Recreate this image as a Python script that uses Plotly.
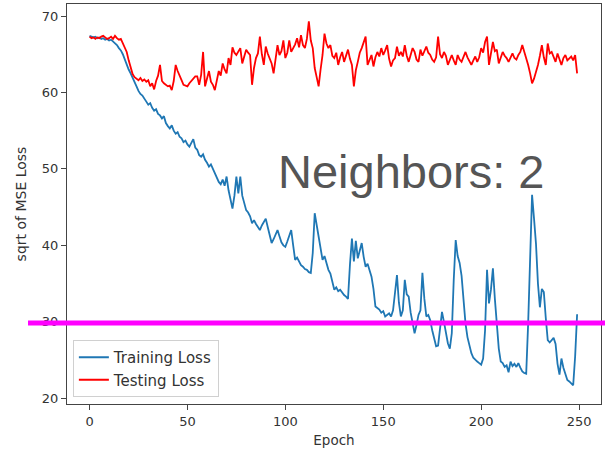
import plotly.graph_objects as go

epochs = list(range(250))

train_loss = [
    67.4, 67.3, 67.2, 67.3, 67.1, 67.2, 67.0, 67.1, 66.9, 67.0,
    66.8, 66.9, 66.7, 66.4, 66.2, 65.8, 65.5, 65.0, 64.3, 63.6,
    63.0, 62.5, 62.0, 61.3, 60.8, 60.2, 59.8, 59.6, 59.1, 58.8,
    58.4, 58.6, 58.0, 57.6, 57.8, 57.2, 57.0, 56.6, 56.9, 56.0,
    55.6, 55.3, 55.7, 55.0, 54.6, 54.8, 54.2, 54.0, 53.5, 53.7,
    53.2, 52.9, 53.4, 53.9, 52.8, 52.5, 51.8, 51.6, 51.9, 51.2,
    50.8, 50.3, 50.6, 50.0, 49.6, 49.0, 48.3, 48.0, 48.6, 47.8,
    49.0, 47.2, 46.0, 44.8, 46.5, 49.0, 46.8, 49.0, 46.5, 45.4,
    44.6, 44.3, 43.8, 42.9, 43.3, 42.8, 42.3, 42.0, 42.6, 43.0,
    43.5, 42.4, 41.2, 40.3, 40.8, 41.5, 42.0, 41.2, 40.4, 40.0,
    39.8, 40.5, 41.3, 42.0, 40.0, 38.1, 38.4, 37.8, 37.4, 37.2,
    36.9, 36.8, 36.5, 36.4, 39.0, 44.2, 42.8, 40.9, 39.5, 38.1,
    38.6, 37.5, 36.8, 36.3, 35.0, 34.2, 34.5, 34.0, 34.2, 33.8,
    33.5, 33.3, 33.0, 37.5, 40.9, 37.9, 40.6, 38.3, 39.2, 40.3,
    38.5, 37.2, 37.6, 36.6, 35.9, 34.3, 32.0, 31.8, 31.6, 31.2,
    31.4, 30.7, 30.9, 31.1, 30.7, 31.5, 33.8, 36.1, 32.5, 30.7,
    31.5, 35.5, 33.6, 33.3, 31.2, 29.8, 28.5, 29.6, 30.9, 31.5,
    36.4, 33.0, 30.7, 30.9, 30.2, 28.9, 28.0, 26.8, 26.9, 28.8,
    31.3, 30.0, 28.4, 27.2, 26.5, 28.5, 35.5, 40.7, 38.6, 37.7,
    36.0, 32.5, 29.8, 28.0, 26.8, 25.9, 25.3, 25.0, 24.8, 24.6,
    24.4, 25.2, 28.9, 36.8, 32.4, 34.2, 37.0, 33.0, 29.8, 26.5,
    24.8, 24.6, 24.1, 24.3, 23.4, 24.8, 24.2, 24.5, 24.1, 24.6,
    24.0, 23.5, 23.3, 23.2, 29.8, 38.5, 46.6, 43.5, 40.2, 35.0,
    31.9, 34.3, 33.9, 30.5, 27.6, 27.3, 27.6, 27.9, 27.1, 24.5,
    23.1, 25.2, 24.0, 23.1, 22.4, 22.2, 22.0, 21.7, 25.5, 31.0,
]

test_loss = [
    67.3, 67.1, 67.2, 67.0, 67.2, 67.1, 67.3, 67.4, 67.2, 67.0,
    67.1, 67.3, 67.0, 67.4, 67.1, 66.9, 67.0, 66.4, 66.0, 65.3,
    64.2, 63.3, 62.4, 62.0, 61.8, 61.6, 61.9, 61.5, 61.7, 61.4,
    61.6, 60.8, 61.2, 60.4, 61.5, 62.2, 63.6, 61.5, 61.2, 61.0,
    60.8, 60.9, 60.3, 61.5, 63.6, 62.8, 62.1, 61.6, 61.0, 60.9,
    60.8, 61.2, 61.5, 61.7, 62.1, 62.1, 61.0, 62.3, 65.3, 60.8,
    61.7, 62.8, 61.4, 61.0, 60.3, 61.8, 62.8, 62.2, 63.8, 63.0,
    62.5, 64.5, 63.6, 65.9, 65.2, 64.9, 65.4, 65.8, 63.8, 64.6,
    65.6, 65.2, 64.9, 61.0, 63.2, 64.5, 65.1, 67.3, 65.0, 63.6,
    66.0, 65.1, 64.5, 63.8, 62.5, 64.6, 66.2, 64.9, 65.4, 66.8,
    64.5, 65.2, 66.8, 65.3, 65.8, 66.3, 67.1, 65.9, 67.5, 66.2,
    65.8, 67.0, 69.3, 66.8, 65.8, 63.2, 62.0, 60.8, 63.0, 64.9,
    67.7, 66.4, 65.8, 66.2, 64.8, 64.5, 65.2, 63.6, 64.6, 65.3,
    64.0, 64.8, 65.6, 64.4, 63.6, 60.8, 62.9, 64.0, 65.2, 65.8,
    66.5, 67.3, 63.6, 64.2, 64.9, 63.4, 64.6, 65.3, 64.7, 65.8,
    64.9, 65.5, 66.2, 64.4, 63.4, 64.2, 64.5, 66.0, 64.8, 65.3,
    64.7, 66.2, 64.8, 64.0, 65.0, 65.8, 65.3, 64.3, 64.0, 65.6,
    64.8, 65.3, 66.0, 65.2, 64.9, 64.3, 64.0, 64.6, 67.3, 65.0,
    64.5, 65.3, 64.8, 63.6, 64.4, 64.9, 64.2, 63.6, 64.9, 64.3,
    64.0, 64.7, 65.3, 64.6, 64.1, 63.6, 64.2, 64.7, 64.0, 64.6,
    65.8, 65.2, 66.6, 67.3, 63.6, 64.9, 66.6, 65.4, 65.6, 63.8,
    64.6, 65.3, 64.8, 64.5, 64.0, 64.6, 65.1, 64.5, 64.3, 64.9,
    65.3, 66.2, 65.4, 64.5, 63.6, 62.5, 61.2, 61.8, 62.6, 63.6,
    64.8, 66.2, 64.6, 63.6, 66.4, 65.1, 65.3, 64.6, 64.0, 65.1,
    64.4, 63.6, 64.5, 64.9, 64.2, 64.5, 64.7, 64.2, 64.9, 62.5,
]

x_ticks = [0, 50, 100, 150, 200, 250]
y_ticks = [20, 30, 40, 50, 60, 70]
series_names = ["Training Loss", "Testing Loss"]
x_title = "Epoch"
y_title = "sqrt of MSE Loss"
overlay_text = "Neighbors: 2"

FONT = "DejaVu Sans"
TXT = "#333333"

fig = go.Figure()
fig.add_trace(go.Scatter(x=epochs, y=train_loss, mode="lines", name=series_names[0],
                         line=dict(color="#1f77b4", width=1.8)))
fig.add_trace(go.Scatter(x=epochs, y=test_loss, mode="lines", name=series_names[1],
                         line=dict(color="#ff0000", width=1.8)))

axis_common = dict(showgrid=False, zeroline=False, showline=True, mirror=True,
                   linecolor="#444444", linewidth=1, ticks="outside", ticklen=5,
                   tickcolor="#444444", tickwidth=1,
                   tickfont=dict(family=FONT, size=13, color=TXT))

fig.update_layout(
    width=605, height=455,
    margin=dict(l=67, r=4, t=4, b=51),
    paper_bgcolor="white", plot_bgcolor="white",
    xaxis=dict(range=[-11.5, 261.2], tickvals=x_ticks,
               title=dict(text=x_title, font=dict(family=FONT, size=13.5, color=TXT), standoff=7),
               **axis_common),
    yaxis=dict(range=[19.25, 71.57], tickvals=y_ticks,
               title=dict(text=y_title, font=dict(family=FONT, size=14, color=TXT), standoff=11),
               **axis_common),
    legend=dict(x=0.011, y=0.0175, xanchor="left", yanchor="bottom",
                bgcolor="rgba(255,255,255,0.85)", bordercolor="#d0d0d0", borderwidth=1,
                font=dict(family=FONT, size=15, color=TXT)),
    showlegend=True,
)

fig.add_shape(type="line", xref="paper", yref="paper",
              x0=-0.073, x1=1.02, y0=0.2025, y1=0.2025,
              line=dict(color="#ff00ff", width=5), layer="above")

fig.add_annotation(text=overlay_text, xref="paper", yref="paper",
                   x=0.391, y=0.5825, xanchor="left", yanchor="middle",
                   showarrow=False,
                   font=dict(family="Liberation Sans", size=47, color="#555555"))

fig.write_html("out.html")
